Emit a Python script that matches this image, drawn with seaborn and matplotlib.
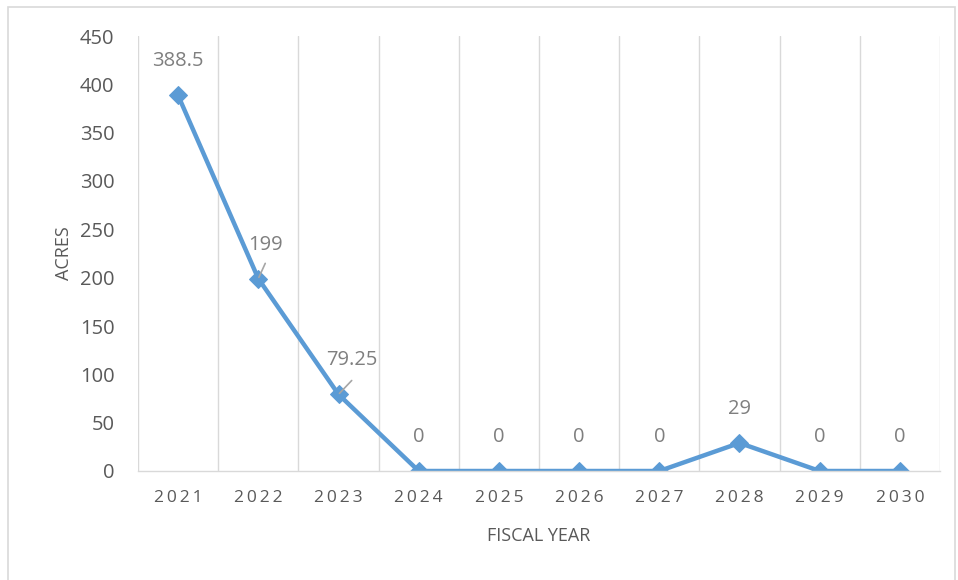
import matplotlib
matplotlib.use("Agg")
import matplotlib.pyplot as plt
import matplotlib.patches as mpatches
import seaborn as sns
import pandas as pd
import numpy as np

years = ["2021", "2022", "2023", "2024", "2025", "2026", "2027", "2028", "2029", "2030"]
acres = [388.5, 199, 79.25, 0, 0, 0, 0, 29, 0, 0]
labels = ["388.5", "199", "79.25", "0", "0", "0", "0", "29", "0", "0"]

sns.set_theme(style="white")
plt.rcParams['font.family'] = ['Open Sans', 'DejaVu Sans']

df = pd.DataFrame({"x": np.arange(len(years)), "year": years, "acres": acres})

fig = plt.figure(figsize=(9.58, 5.8), dpi=100)
ax = fig.add_axes([138/958, 1-471/580, (940-138)/958, (471-36)/580])

line_color = "#5B9BD5"
sns.lineplot(data=df, x="x", y="acres", ax=ax, color=line_color, linewidth=3.2,
             marker="D", markersize=9, markeredgecolor=line_color, markerfacecolor=line_color)

ax.set_xlim(-0.5, len(years) - 0.5)
ax.set_ylim(0, 450)
ax.set_yticks(np.arange(0, 451, 50))
ax.set_xticks(np.arange(len(years)))
ax.set_xticklabels(["\u2009".join(y) for y in years])
ax.set_xticks(np.arange(-0.5, len(years), 1), minor=True)
ax.grid(True, which="minor", axis="x", color="#D9D9D9", linewidth=1)
ax.grid(False, which="major")
ax.tick_params(axis="both", which="both", length=0)
ax.tick_params(axis="y", labelsize=14.5, labelcolor="#595959", pad=17)
ax.tick_params(axis="x", labelsize=12.5, labelcolor="#595959", pad=14)

for s in ["top", "right", "left"]:
    ax.spines[s].set_visible(False)
ax.spines["bottom"].set_color("#D9D9D9")
ax.spines["bottom"].set_linewidth(1)

ax.set_ylabel("ACRES", fontsize=13, color="#595959", labelpad=5)
ax.set_xlabel("FISCAL YEAR", fontsize=13, color="#595959", labelpad=15)

label_color = "#7F7F7F"
offsets = {1: (5, 24.5), 2: (9.4, 25)}
for i, (v, t) in enumerate(zip(acres, labels)):
    dx, dy = offsets.get(i, (0, 24.5))
    ax.annotate(t, xy=(i, v), xytext=(dx, dy), textcoords="offset points",
                fontsize=14.5, color=label_color, ha="center", va="center")

# leader lines for 199 and 79.25 labels
leaders = {1: (5, 11), 2: (9.5, 10)}
for i, (lx, ly) in leaders.items():
    ax.annotate("", xy=(i, acres[i]), xytext=(lx, ly), textcoords="offset points",
                arrowprops=dict(arrowstyle="-", color="#A6A6A6", lw=1.2, shrinkA=0, shrinkB=1))

fig.patches.append(mpatches.Rectangle((8/958, -0.05), (955-8)/958, 1.05 - 7/580,
                                      transform=fig.transFigure, fill=False,
                                      edgecolor="#D9D9D9", linewidth=1.2))

fig.savefig("out.png", dpi=100)
